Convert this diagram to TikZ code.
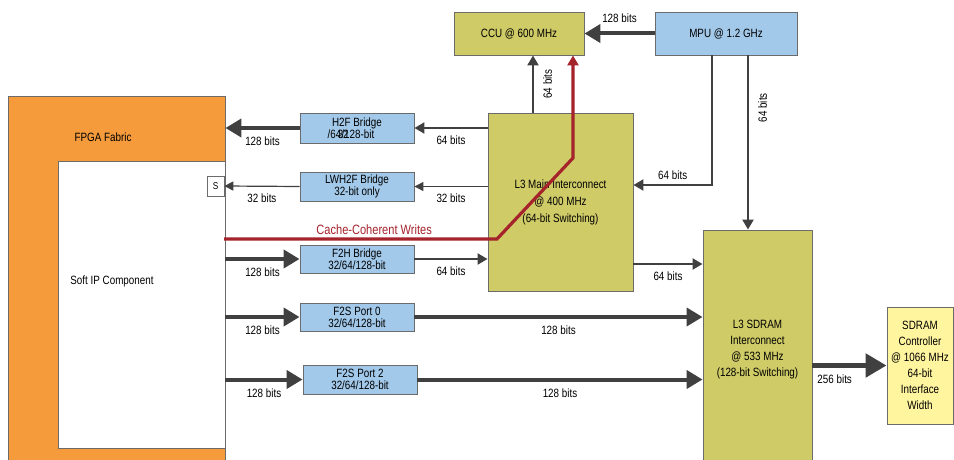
\documentclass[tikz,border=0pt]{standalone}
\usepackage{fontspec}
\setmainfont{Liberation Sans}[FakeStretch=0.82]
\usetikzlibrary{arrows.meta,positioning,calc}
\definecolor{socfabric}{HTML}{F59B3C}
\definecolor{socolive}{HTML}{CFCB67}
\definecolor{socblue}{HTML}{A3C9EA}
\definecolor{socpale}{HTML}{FFF59F}
\definecolor{socred}{HTML}{A5232B}
\definecolor{socgrey}{HTML}{404040}
\definecolor{socedge}{HTML}{6B6B6B}
\tikzset{
  font=\fontsize{12}{12}\selectfont,
  blk/.style={draw=socedge,line width=0.9pt,inner sep=0pt,align=center},
  bridge/.style={blk,fill=socblue,minimum width=114pt,minimum height=29pt},
  xconn/.style={blk,fill=socolive},
  busfat/.style={-{Triangle[length=21pt,width=23pt]},line width=5.5pt,draw=socgrey},
  buswide/.style={-{Triangle[length=16pt,width=18pt]},line width=4pt,draw=socgrey},
  busmid/.style={-{Triangle[length=10pt,width=11pt]},line width=2.2pt,draw=socgrey},
  busslim/.style={-{Triangle[length=9pt,width=9pt]},line width=1.2pt,draw=socgrey},
  cohere/.style={-{Triangle[length=10pt,width=11pt]},line width=3.2pt,draw=socred},
  bits/.style={inner sep=2pt},
  upbits/.style={inner sep=2pt,inner ysep=9pt,anchor=north,rotate=90},
}

\begin{document}
\begin{tikzpicture}[x=1pt,y=-1pt]
  \useasboundingbox (0,0) rectangle (954,460);

  % FPGA side
  \node[blk,fill=socfabric,minimum width=217pt,minimum height=372pt] (fabric) at (116.5,282) {};
  \node (fablbl) at (103,137) {FPGA Fabric};
  \node[blk,fill=white,minimum width=167pt,minimum height=287pt] (soft) at (141.5,304.5) {};
  \node (softlbl) at (112,281) {Soft IP Component};
  \node[blk,fill=white,line width=0.6pt,minimum width=17pt,minimum height=20pt,
        font=\fontsize{10}{10}\selectfont] (sport) at (215.5,186) {S};

  % bridges
  \node[bridge,minimum height=30pt] (h2f) at (357,128)
    {H2F Bridge\\\kern-1em/64\kern-.3em32\kern-.6em/128-bit};
  \node[bridge] (lwh2f) at (357,186.5) {LWH2F Bridge\\32-bit only};
  \node[bridge,minimum height=28pt] (f2h) at (357,259) {F2H Bridge\\32/64/128-bit};
  \node[bridge,minimum height=28pt] (f2s0) at (357,317) {F2S Port 0\\32/64/128-bit};
  \node[bridge] (f2s2) at (360,379.5) {F2S Port 2\\32/64/128-bit};

  % HPS side
  \node[xconn,minimum width=130pt,minimum height=43pt] (ccu) at (519,33.5) {CCU @ 600 MHz};
  \node[blk,fill=socblue,minimum width=142pt,minimum height=43pt] (mpu) at (726,33.5) {MPU @ 1.2 GHz};
  \node[xconn,minimum width=145pt,minimum height=178pt,font=\fontsize{12}{17}\selectfont]
    (l3main) at (560.5,202) {L3 Main Interconnect\\@ 400 MHz\\(64-bit Switching)};
  \node[xconn,minimum width=109pt,minimum height=240pt,font=\fontsize{12}{16}\selectfont]
    (l3sdram) at (757.5,350) {L3 SDRAM\\Interconnect\\@ 533 MHz\\(128-bit Switching)};
  \node[blk,fill=socpale,minimum width=66pt,minimum height=117pt,font=\fontsize{12}{16}\selectfont]
    (ctrl) at (920,365.5) {SDRAM\\Controller\\@ 1066 MHz\\64-bit\\Interface\\Width};

  \coordinate (ccin) at (224,239);
  \coordinate (ccknee) at (497,239);
  \coordinate (ccbend) at (573,158);
  \coordinate (l3up) at ([xshift=-27.5pt]l3main.north);
  \coordinate (l3out) at ([yshift=-62pt]l3main.east);
  \coordinate (mpuleft) at ([xshift=-14pt]mpu.south);
  \coordinate (mpuright) at ([xshift=22pt]mpu.south);
  \coordinate (l3in) at ([yshift=17pt]l3main.east);

  % HPS-to-FPGA
  \draw[buswide] (h2f.west) -- node[bits,below=5pt]{128 bits} (h2f.west -| fabric.east);
  \draw[busmid] (l3main.west |- h2f.east) -- node[bits,below=5pt]{64 bits} (h2f.east);
  \draw[busslim] (lwh2f.west) -- node[bits,below=5pt]{32 bits} (sport.east);
  \draw[busslim] (l3main.west |- lwh2f.east) -- node[bits,below=5pt]{32 bits} (lwh2f.east);

  % FPGA-to-HPS
  \draw[cohere] (ccin) -- node[bits,pos=0.55,above=1pt,text=socred,font=\fontsize{13.5}{14}\selectfont]
    {Cache-Coherent Writes} (ccknee) -- (ccbend) -- (ccbend |- ccu.south);
  \draw[buswide] (fabric.east |- f2h.west) -- node[bits,below=5pt]{128 bits} (f2h.west);
  \draw[busmid] (f2h.east) -- node[bits,below=5pt]{64 bits} (f2h.east -| l3main.west);
  \draw[buswide] (fabric.east |- f2s0.west) -- node[bits,below=5pt]{128 bits} (f2s0.west);
  \draw[buswide] (f2s0.east) -- node[bits,below=5pt]{128 bits} (f2s0.east -| l3sdram.west);
  \draw[buswide] (fabric.east |- f2s2.west) -- node[bits,below=5pt]{128 bits} (f2s2.west);
  \draw[buswide] (f2s2.east) -- node[bits,below=5pt]{128 bits} (f2s2.east -| l3sdram.west);

  % MPU, CCU and interconnects
  \draw[buswide] (mpu.west) -- node[bits,above=7pt]{128 bits} (ccu.east);
  \draw[busmid] (l3up) -- node[upbits]{64 bits} (l3up |- ccu.south);
  \draw[busmid] (mpuleft) |- node[bits,pos=0.75,above=2pt]{64 bits} (l3in);
  \draw[busmid] (mpuright) -- node[upbits,pos=0.3]{64 bits} (mpuright |- l3sdram.north);
  \draw[busmid] (l3out) -- node[bits,below=5pt]{64 bits} (l3out -| l3sdram.west);
  \draw[busfat] (l3sdram.east |- ctrl.west) -- node[bits,pos=0.3,below=5pt]{256 bits} (ctrl.west);
\end{tikzpicture}
\end{document}
